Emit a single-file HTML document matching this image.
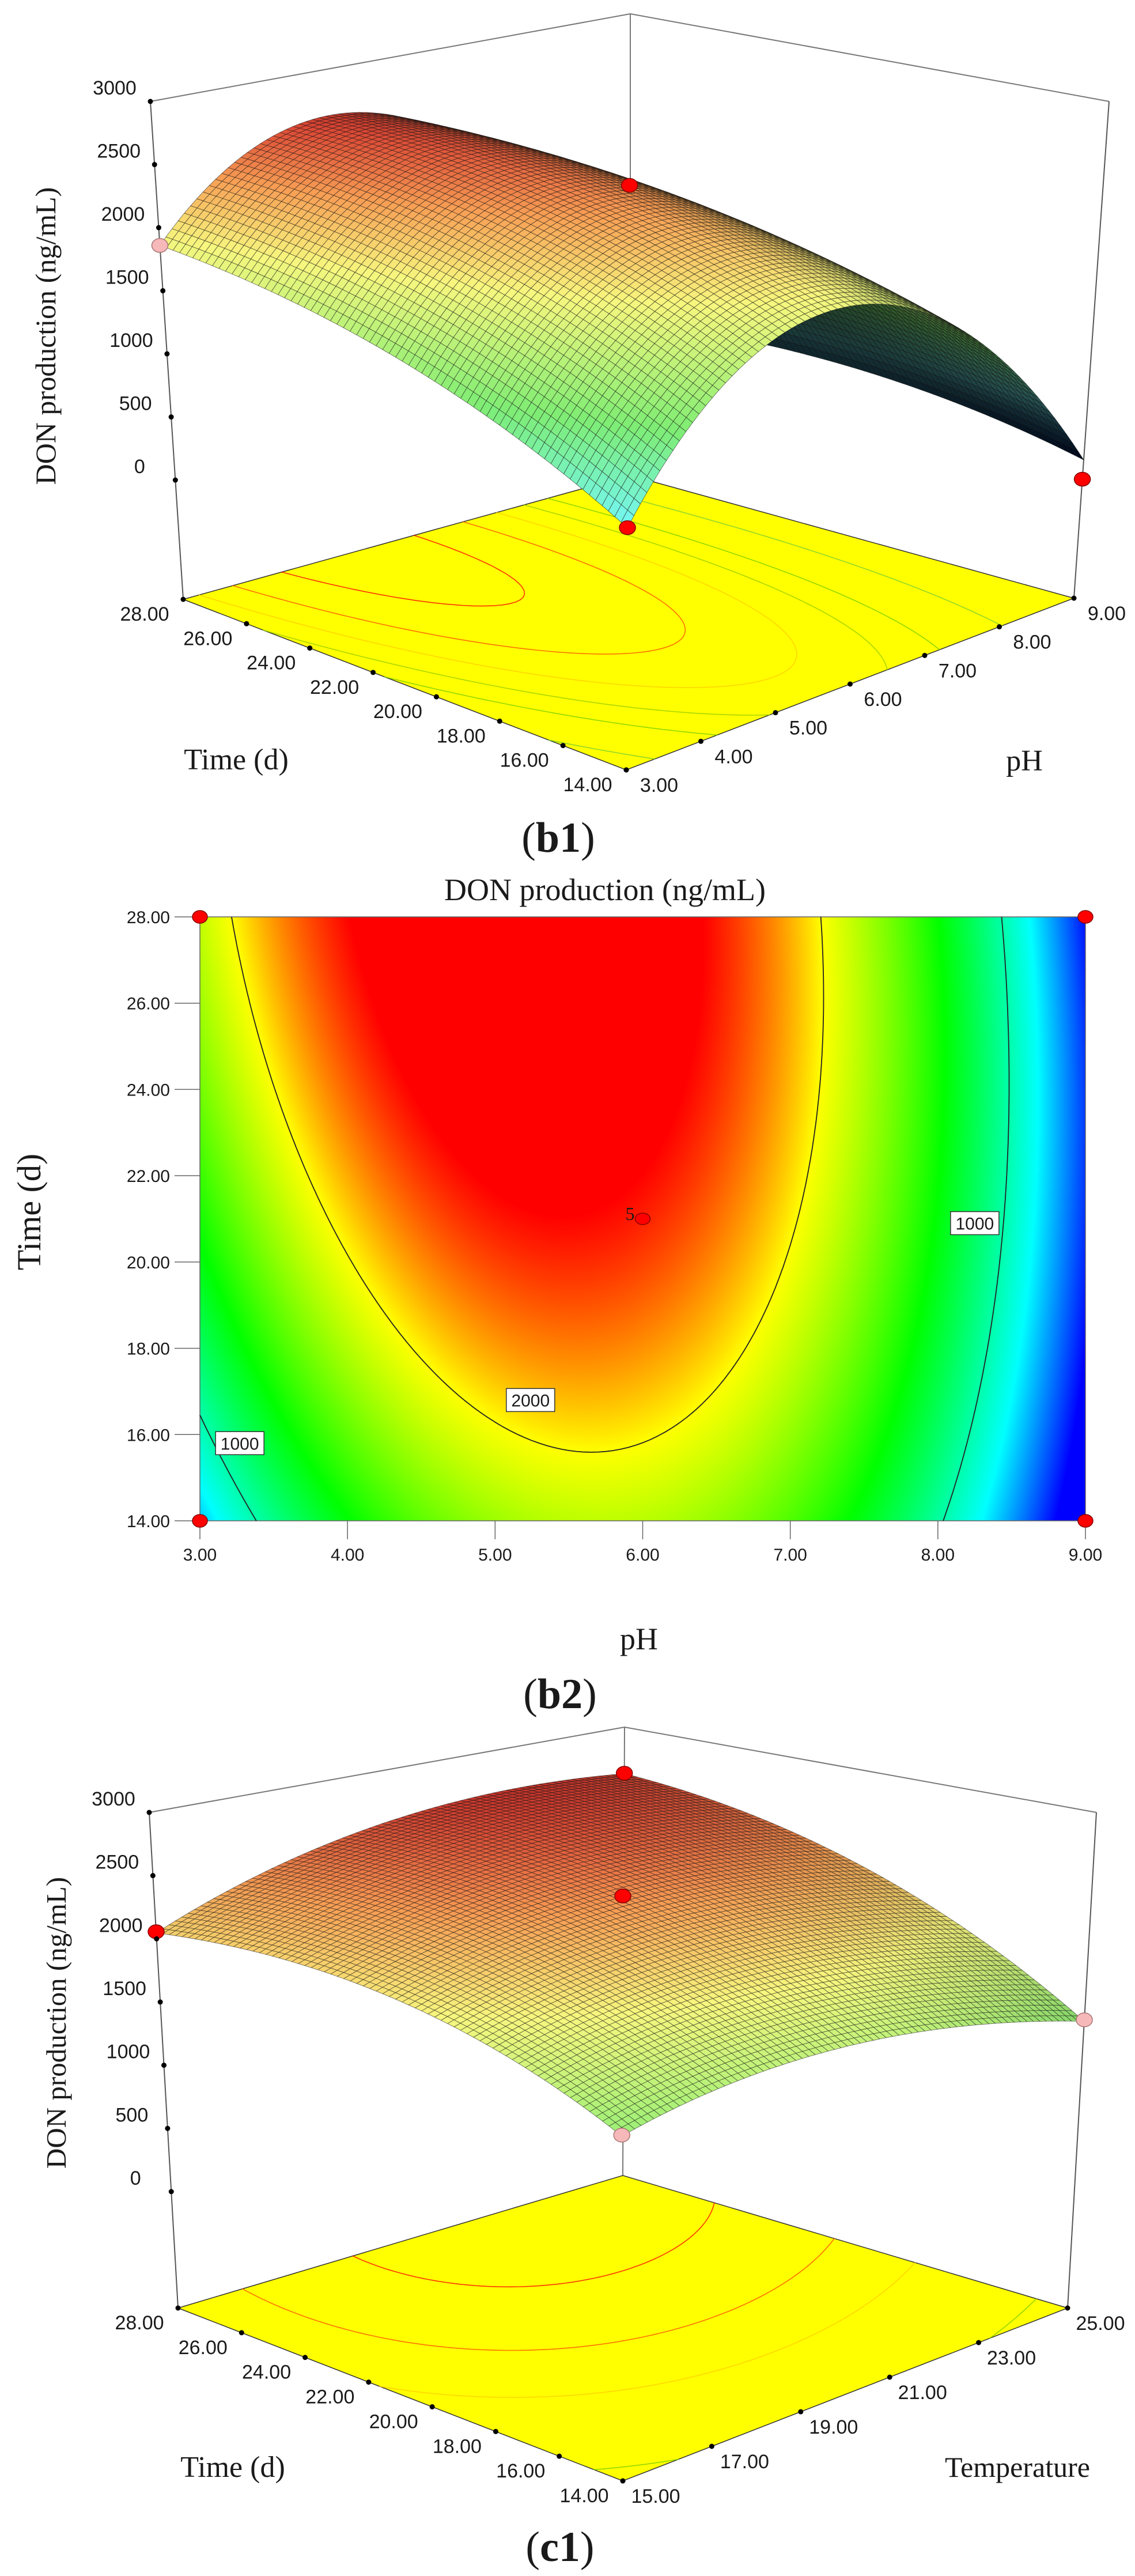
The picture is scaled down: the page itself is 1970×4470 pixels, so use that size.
<!DOCTYPE html>
<html><head><meta charset="utf-8">
<style>
body{margin:0;background:#fff;width:1970px;height:4470px;overflow:hidden;position:relative}
#hm{position:absolute;left:347px;top:1591px}
#s{position:absolute;left:0;top:0}
text{fill:#1a1a1a}
.tk{font-family:"Liberation Sans",sans-serif;font-size:34px}
.tk2{font-family:"Liberation Sans",sans-serif;font-size:30px}
.sf{font-family:"Liberation Serif",serif}
</style></head>
<body>
<canvas id="hm" width="1537" height="1048"></canvas>
<svg id="s" width="1970" height="4470" xmlns="http://www.w3.org/2000/svg"></svg>
<script>
// ---- data ----
const b1Coef = [2350, -507, 346, -1408, -170, -234]; // a, bx, by, bxx, byy, bxy  (x=pH coded, y=time coded)
const c1Coef = [2346, 124, 474, -250, -250, 149];    // x=temperature coded, y=time coded
const timeTicks = [14, 16, 18, 20, 22, 24, 26, 28];
const phTicks = [3, 4, 5, 6, 7, 8, 9];
const tempTicks = [15, 17, 19, 21, 23, 25];
const zTicks = [0, 500, 1000, 1500, 2000, 2500, 3000];
const b1Points = [[3, 28, 1859, 'pink'], [3, 14, 700, 'red'], [9, 14, 0, 'red'], [6, 21, 2350, 'red']];
const c1Points = [[15, 28, 2056, 'red'], [25, 28, 2597, 'red'], [20, 21, 2352, 'red'], [25, 14, 1359, 'pink'], [15, 14, 1404, 'pink']];
const floorLevelsB1 = [1000, 1500, 1750, 2000, 2250, 2500];
const floorLevelsC1 = [1500, 2000, 2250, 2500];
const b2Levels = [1000, 2000];
const b2LabelPos = [[5.24, 16.8, '2000'], [3.27, 15.8, '1000'], [8.25, 20.9, '1000']];
const b2Design = [[3, 14], [3, 28], [9, 14], [9, 28]];
const b2Center = [6, 21, '5'];

const NS = 'http://www.w3.org/2000/svg';
const svg = document.getElementById('s');
function mk(tag, attrs, parent) {
  const e = document.createElementNS(NS, tag);
  for (const k in attrs) e.setAttribute(k, attrs[k]);
  (parent || svg).appendChild(e);
  return e;
}
function model(c, x, y) { return c[0] + c[1]*x + c[2]*y + c[3]*x*x + c[4]*y*y + c[5]*x*y; }
const stops = [[350, [0, 0, 255]], [800, [0, 255, 255]], [1400, [0, 255, 0]], [2000, [255, 255, 0]], [2400, [255, 0, 0]]];
const sstops = [[200, [0, 40, 110]], [700, [110, 235, 235]], [1250, [120, 225, 110]], [1900, [235, 235, 120]], [2300, [235, 150, 80]], [2700, [200, 40, 40]]];
function cm(st, v) {
  if (v <= st[0][0]) return st[0][1].slice();
  for (let i = 1; i < st.length; i++) {
    if (v <= st[i][0]) {
      const t = (v - st[i-1][0]) / (st[i][0] - st[i-1][0]);
      return st[i-1][1].map((c, k) => c + (st[i][1][k] - c) * t);
    }
  }
  return st[st.length-1][1].slice();
}
const cmap = v => cm(stops, v);
function rgb(c) { return 'rgb(' + c.map(v => Math.max(0, Math.min(255, Math.round(v)))).join(',') + ')'; }

function contour(fn, level, n) {
  const g = [];
  for (let i = 0; i <= n; i++) { g.push([]); for (let j = 0; j <= n; j++) g[i].push(fn(i/n, j/n)); }
  const segs = [];
  for (let i = 0; i < n; i++) for (let j = 0; j < n; j++) {
    const c = [[i, j], [i+1, j], [i+1, j+1], [i, j+1]];
    const pts = [];
    for (let k = 0; k < 4; k++) {
      const a = c[k], b = c[(k+1)%4];
      const va = g[a[0]][a[1]], vb = g[b[0]][b[1]];
      if ((va < level) !== (vb < level)) {
        const t = (level - va) / (vb - va);
        pts.push([(a[0] + (b[0]-a[0])*t)/n, (a[1] + (b[1]-a[1])*t)/n]);
      }
    }
    if (pts.length >= 2) segs.push([pts[0][0], pts[0][1], pts[1][0], pts[1][1]]);
    if (pts.length === 4) segs.push([pts[2][0], pts[2][1], pts[3][0], pts[3][1]]);
  }
  return segs;
}

function bil(c, u, v) {
  return [c[0][0]*(1-u)*(1-v) + c[1][0]*u*(1-v) + c[2][0]*(1-u)*v + c[3][0]*u*v,
          c[0][1]*(1-u)*(1-v) + c[1][1]*u*(1-v) + c[2][1]*(1-u)*v + c[3][1]*u*v];
}
function draw3D(P) {
  const TF = [P.TL[0] + P.TR[0] - P.TB[0], P.TL[1] + P.TR[1] - P.TB[1]];
  const floorC = [P.FF, P.FR, P.FL, P.FB], topC = [TF, P.TR, P.TL, P.TB];
  const proj = (u, v, z) => {
    const f = bil(floorC, u, v), t = bil(topC, u, v);
    const k = (z - P.zFloor) / (3000 - P.zFloor);
    return [f[0] + (t[0]-f[0])*k, f[1] + (t[1]-f[1])*k];
  };
  const g = mk('g', {});
  
  
  const box = mk('path', {d: `M${P.TL}L${P.TB}L${P.TR}M${P.TB}L${P.FB}`, fill: 'none', stroke: '#777', 'stroke-width': 2}, g);
  
  
  const fl = mk('polygon', {points: [P.FL, P.FF, P.FR, P.FB].join(' '), fill: '#ffff00', stroke: '#333', 'stroke-width': 1.5}, g);
  
  
  const fn = (u, v) => model(P.coef, 2*u-1, 2*v-1);
  P.floorLevels.forEach(L => {
    const segs = contour(fn, L, 80);
    let d = '';
    segs.forEach(s => { const a = proj(s[0], s[1], P.zFloor), b = proj(s[2], s[3], P.zFloor); d += `M${a[0].toFixed(1)},${a[1].toFixed(1)}L${b[0].toFixed(1)},${b[1].toFixed(1)}`; });
    const c = cmap(L);
    const p = mk('path', {d: d, fill: 'none', stroke: rgb([Math.max(c[0], 120), c[1]*0.8, c[2]*0.3]), 'stroke-width': 1.6, 'stroke-opacity': 0.8, 'stroke-linecap': 'round'}, g);
    
    
  });
  const vl = mk('path', {d: `M${P.TL}L${P.FL}M${P.TR}L${P.FR}`, fill: 'none', stroke: '#555', 'stroke-width': 2}, g);
  
  
  const N = 72, zs = [];
  for (let i = 0; i <= N; i++) { zs.push([]); for (let j = 0; j <= N; j++) zs[i].push(fn(i/N, j/N)); }
  const quads = [];
  const Lx = -0.5, Ly = -0.5, Lz = 0.75, Ln = Math.hypot(Lx, Ly, Lz);
  for (let i = 0; i < N; i++) for (let j = 0; j < N; j++) {
    const zc = (zs[i][j] + zs[i+1][j] + zs[i][j+1] + zs[i+1][j+1]) / 4;
    const dzu = ((zs[i+1][j] + zs[i+1][j+1]) - (zs[i][j] + zs[i][j+1])) / 2 * N / 3000 * 0.8;
    const dzv = ((zs[i][j+1] + zs[i+1][j+1]) - (zs[i][j] + zs[i+1][j])) / 2 * N / 3000 * 0.8;
    const nn = Math.hypot(dzu, dzv, 1);
    const dot = (-dzu*Lx - dzv*Ly + Lz) / (nn * Ln);
    const br = Math.min(1.05, 0.25 + Math.max(0, dot) * 0.95);
    const col = cm(sstops, zc).map(c => c * br);
    const pts = [proj(i/N, j/N, zs[i][j]), proj((i+1)/N, j/N, zs[i+1][j]), proj((i+1)/N, (j+1)/N, zs[i+1][j+1]), proj(i/N, (j+1)/N, zs[i][j+1])];
    const depth = bil(floorC, (i+0.5)/N, (j+0.5)/N)[1];
    quads.push([depth, pts, col]);
  }
  quads.sort((a, b) => a[0] - b[0]);
  const sg = mk('g', {stroke: 'rgba(15,15,15,0.55)', 'stroke-width': 0.9, 'stroke-linejoin': 'round'}, g);
  
  
  quads.forEach(q => {
    const pl = mk('polygon', {points: q[1].map(p => p[0].toFixed(1) + ',' + p[1].toFixed(1)).join(' '), fill: rgb(q[2])}, sg);
    
    
  });
  P.points.forEach(pt => {
    const u = (pt[0] - P.xMin) / (P.xMax - P.xMin), v = (pt[1] - 14) / 14;
    const p = proj(u, v, pt[2]);
    const c = mk('ellipse', {cx: p[0], cy: p[1], rx: 14, ry: 12, fill: pt[3] === 'red' ? '#ff0000' : '#f6b8b8', stroke: pt[3] === 'red' ? '#800' : '#a77', 'stroke-width': 1.5}, g);
    
    
  });
  timeTicks.forEach(t => {
    const p = proj(0, (t - 14) / 14, P.zFloor);
    const d = mk('circle', {cx: p[0], cy: p[1], r: 4.5, fill: '#000'}, g);
    
    
    const tx = mk('text', {x: p[0] - 67, y: p[1] + 37, 'text-anchor': 'middle', class: 'tk'}, g);
    tx.textContent = t.toFixed(2);
    
    
  });
  P.xTicks.forEach(x => {
    const p = proj((x - P.xMin) / (P.xMax - P.xMin), 0, P.zFloor);
    const d = mk('circle', {cx: p[0], cy: p[1], r: 4.5, fill: '#000'}, g);
    
    
    const tx = mk('text', {x: p[0] + 57, y: p[1] + 38, 'text-anchor': 'middle', class: 'tk'}, g);
    tx.textContent = x.toFixed(2);
    
    
  });
  zTicks.forEach(z => {
    const p = proj(0, 1, z);
    const d = mk('circle', {cx: p[0], cy: p[1], r: 4.5, fill: '#000'}, g);
    
    
    const tx = mk('text', {x: p[0] - 62, y: p[1] - 12, 'text-anchor': 'middle', class: 'tk'}, g);
    tx.textContent = String(z);
    
    
  });
}

draw3D({name: 'panel-b1', coef: b1Coef, points: b1Points, floorLevels: floorLevelsB1,
  FF: [1087, 1336], FR: [1864, 1038], FL: [318, 1040], FB: [1094, 825],
  TL: [261, 176], TR: [1925, 176], TB: [1094, 24], zFloor: -945,
  xMin: 3, xMax: 9, xTicks: phTicks, xName: 'ph'});
draw3D({name: 'panel-c1', coef: c1Coef, points: c1Points, floorLevels: floorLevelsC1,
  FF: [1081, 4305], FR: [1853, 4005], FL: [309, 4005], FB: [1081, 3775],
  TL: [259, 3145], TR: [1903, 3145], TB: [1084, 2997], zFloor: -921,
  xMin: 15, xMax: 25, xTicks: tempTicks, xName: 'temperature'});

const PL = 347, PR = 1884, PT = 1591, PB = 2639;
const xS = ph => PL + (ph - 3) / 6 * (PR - PL);
const yS = t => PB - (t - 14) / 14 * (PB - PT);
(function () {
  const cv = document.getElementById('hm'), ctx = cv.getContext('2d');
  const W = cv.width, H = cv.height, img = ctx.createImageData(W, H);
  for (let py = 0; py < H; py++) {
    const y = 1 - 2 * py / (H - 1);
    for (let px = 0; px < W; px++) {
      const x = 2 * px / (W - 1) - 1;
      const c = cmap(model(b1Coef, x, y));
      const k = (py * W + px) * 4;
      img.data[k] = c[0]; img.data[k+1] = c[1]; img.data[k+2] = c[2]; img.data[k+3] = 255;
    }
  }
  ctx.putImageData(img, 0, 0);
})();
const g2 = mk('g', {});


const fr = mk('rect', {x: PL, y: PT, width: PR - PL, height: PB - PT, fill: 'none', stroke: '#666', 'stroke-width': 1.5}, g2);


b2Levels.forEach(L => {
  const segs = contour((u, v) => model(b1Coef, 2*u-1, 2*v-1), L, 120);
  let d = '';
  segs.forEach(s => { d += `M${xS(3 + s[0]*6).toFixed(1)},${yS(14 + s[1]*14).toFixed(1)}L${xS(3 + s[2]*6).toFixed(1)},${yS(14 + s[3]*14).toFixed(1)}`; });
  const p = mk('path', {d: d, fill: 'none', stroke: '#222', 'stroke-width': 1.8}, g2);
  
  
});
b2LabelPos.forEach(l => {
  const x = xS(l[0]), y = yS(l[1]);
  const r = mk('rect', {x: x - 42, y: y - 20, width: 84, height: 40, fill: '#fff', stroke: '#333', 'stroke-width': 1.5}, g2);
  
  
  const t = mk('text', {x: x, y: y + 11, 'text-anchor': 'middle', class: 'tk2'}, g2);
  t.textContent = l[2];
  
  
});
timeTicks.forEach(t => {
  const y = yS(t);
  const ln = mk('line', {x1: PL - 44, y1: y, x2: PL, y2: y, stroke: '#666', 'stroke-width': 1.5}, g2);
  
  
  const tx = mk('text', {x: PL - 52, y: y + 11, 'text-anchor': 'end', class: 'tk2'}, g2);
  tx.textContent = t.toFixed(2);
  
  
});
phTicks.forEach(p => {
  const x = xS(p);
  const ln = mk('line', {x1: x, y1: PB, x2: x, y2: PB + 32, stroke: '#666', 'stroke-width': 1.5}, g2);
  
  
  const tx = mk('text', {x: x, y: PB + 69, 'text-anchor': 'middle', class: 'tk2'}, g2);
  tx.textContent = p.toFixed(2);
  
  
});
b2Design.forEach(d => {
  const c = mk('ellipse', {cx: xS(d[0]), cy: yS(d[1]), rx: 13, ry: 11, fill: '#ff0000', stroke: '#800', 'stroke-width': 1.5}, g2);
  
  
});
{
  const c = mk('ellipse', {cx: xS(b2Center[0]), cy: yS(b2Center[1]), rx: 13, ry: 10, fill: '#ff0000', stroke: '#800', 'stroke-width': 1.5}, g2);
  
  
  const t = mk('text', {x: xS(b2Center[0]) - 30, y: yS(b2Center[1]) + 2, 'font-size': 32, class: 'sf'}, g2);
  t.textContent = b2Center[2];
  
  
}
</script>
<svg width="1970" height="4470" style="position:absolute;left:0;top:0">
  <g class="sf" style="font-family:'Liberation Serif',serif">
    <text transform="translate(96,583) rotate(-90)" text-anchor="middle" font-size="50" fill="#1a1a3a">DON production (ng/mL)</text>
    <text x="410" y="1335" text-anchor="middle" font-size="52">Time (d)</text>
    <text x="1778" y="1337" text-anchor="middle" font-size="52">pH</text>
    <text x="969" y="1478" text-anchor="middle" font-size="74">(<tspan font-weight="bold">b1</tspan>)</text>
    <text x="1050" y="1562" text-anchor="middle" font-size="54">DON production (ng/mL)</text>
    <text transform="translate(70,2103) rotate(-90)" text-anchor="middle" font-size="58">Time (d)</text>
    <text x="1109" y="2862" text-anchor="middle" font-size="54">pH</text>
    <text x="972" y="2964" text-anchor="middle" font-size="74">(<tspan font-weight="bold">b2</tspan>)</text>
    <text transform="translate(114,3510) rotate(-90)" text-anchor="middle" font-size="49" fill="#1a1a3a">DON production (ng/mL)</text>
    <text x="404" y="4298" text-anchor="middle" font-size="52">Time (d)</text>
    <text x="1766" y="4298" text-anchor="middle" font-size="50">Temperature</text>
    <text x="972" y="4444" text-anchor="middle" font-size="74">(<tspan font-weight="bold">c1</tspan>)</text>
  </g>
</svg>
</body></html>
